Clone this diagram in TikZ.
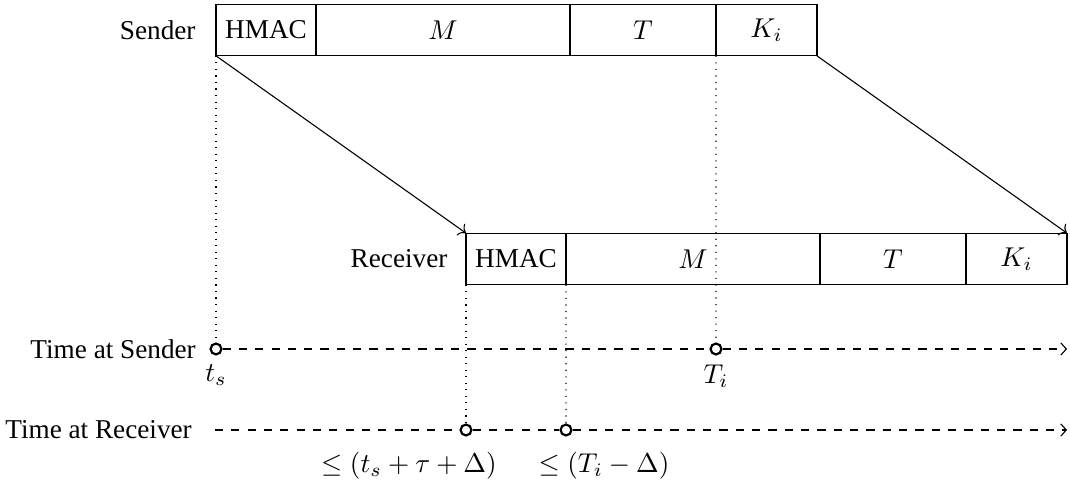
\documentclass[tikz,border=0pt]{standalone}
\usepackage{amsmath, amssymb}
\usepackage[no-math]{fontspec}
\setmainfont{Liberation Serif}
\usetikzlibrary{arrows.meta, positioning}

\begin{document}
\begin{tikzpicture}[x=0.3675pt, y=-0.3675pt,
  field/.style={draw, minimum height=19pt, inner sep=0pt, outer sep=0pt, anchor=west},
  tick/.style={circle, draw, thick, minimum size=4pt, inner sep=0pt},
  timeline/.style={dashed, -{Straight Barb[length=2pt, width=4.5pt]}},
  guide/.style={dotted}]
  \useasboundingbox (0,0) rectangle (1070,481);

  % packet as sent
  \node[field, minimum width=36.75pt] (sh) at (216,30) {HMAC};
  \node[field, minimum width=93.35pt, right=0pt of sh] (sm) {$M$};
  \node[field, minimum width=53.65pt, right=0pt of sm] (st) {$T$};
  \node[field, minimum width=37.1pt, right=0pt of st] (sk) {$K_i$};
  \node[left=4pt of sh] (sender) {Sender};

  % packet as received
  \node[field, minimum width=36.75pt] (rh) at (466,259) {HMAC};
  \node[field, minimum width=93.35pt, right=0pt of rh] (rm) {$M$};
  \node[field, minimum width=53.65pt, right=0pt of rm] (rt) {$T$};
  \node[field, minimum width=37.1pt, right=0pt of rt] (rk) {$K_i$};
  \node[left=3.3pt of rh] (receiver) {Receiver};

  \draw[->] (sh.south west) -- (rh.north west);
  \draw[->] (sk.south east) -- (rk.north east);

  % time at sender
  \node[tick] (ts) at (216,349) {};
  \node[tick] (Ti) at (716,349) {};
  \coordinate (send end) at (1067,349);
  \node[left=1.5pt of ts] (tsender) {Time at Sender};
  \node[below=0pt of ts] (tslabel) {$t_s$};
  \node[below=0pt of Ti] (Tilabel) {$T_i$};
  \draw[timeline] (ts) -- (Ti) -- (send end);

  % time at receiver
  \coordinate (recv start) at (215,430);
  \node[tick] (r1) at (466,430) {};
  \node[tick] (r2) at (566,430) {};
  \coordinate (recv end) at (1067,430);
  \node[left=5pt of recv start] (treceiver) {Time at Receiver};
  \node (r1label) at (409,466) {$\leq (t_s + \tau + \Delta)$};
  \node (r2label) at (604,466) {$\leq (T_i - \Delta)$};
  \draw[timeline] (recv start) -- (r1) -- (r2) -- (recv end);

  % guides down to the axes
  \draw[guide] (sh.south west) -- (ts);
  \draw[guide] (st.south east) -- (Ti);
  \draw[guide] (rh.south west) -- (r1);
  \draw[guide] (rh.south east) -- (r2);
\end{tikzpicture}
\end{document}
